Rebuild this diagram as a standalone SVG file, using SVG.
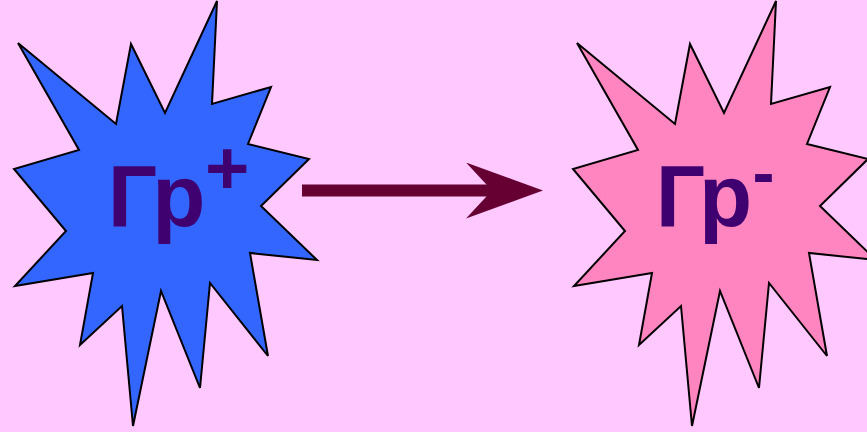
<svg xmlns="http://www.w3.org/2000/svg" width="867" height="432" viewBox="0 0 867 432">
  <defs>
    <style>
      .star { stroke: #000; stroke-width: 2; stroke-linejoin: miter; }
      .lbl { font-family: "Liberation Sans", Arial, sans-serif; font-weight: bold; fill: #3f0070; }
      .conn { stroke: #660033; stroke-width: 12; fill: none; }
    </style>
    <polygon id="burst" points="18,43 116,124 131,44 165,113 217,1 212,104 271,87 248,144 309,159 261,206 317,260 250,253 268,356 210,283 200,388 161,291 133,426 122,306 80,345 93,273 15,286 66,231 14,169 79,150"/>
    <marker id="head" markerUnits="userSpaceOnUse" markerWidth="78" markerHeight="58" viewBox="0 0 78 58" refX="30" refY="28" orient="auto">
      <polygon points="0,0 77,28 0,56 26,28" fill="#660033"/>
    </marker>
  </defs>
  <rect width="867" height="432" fill="#ffc8ff"/>
  <g id="node-gr-plus">
    <use href="#burst" class="star" fill="#3366ff"/>
    <text class="lbl" x="107.7 152.2" y="226" font-size="87">Гр<tspan x="205" y="194" font-size="76">+</tspan></text>
  </g>
  <g id="node-gr-minus">
    <use href="#burst" class="star" fill="#ff85c0" transform="translate(559,0)"/>
    <text class="lbl" x="655.7 698.9" y="226" font-size="87">Гр<tspan x="752.4" y="195" font-size="66">-</tspan></text>
  </g>
  <g id="connectors">
    <line class="conn" x1="302" y1="190.5" x2="496" y2="190.5" marker-end="url(#head)"/>
  </g>
</svg>
